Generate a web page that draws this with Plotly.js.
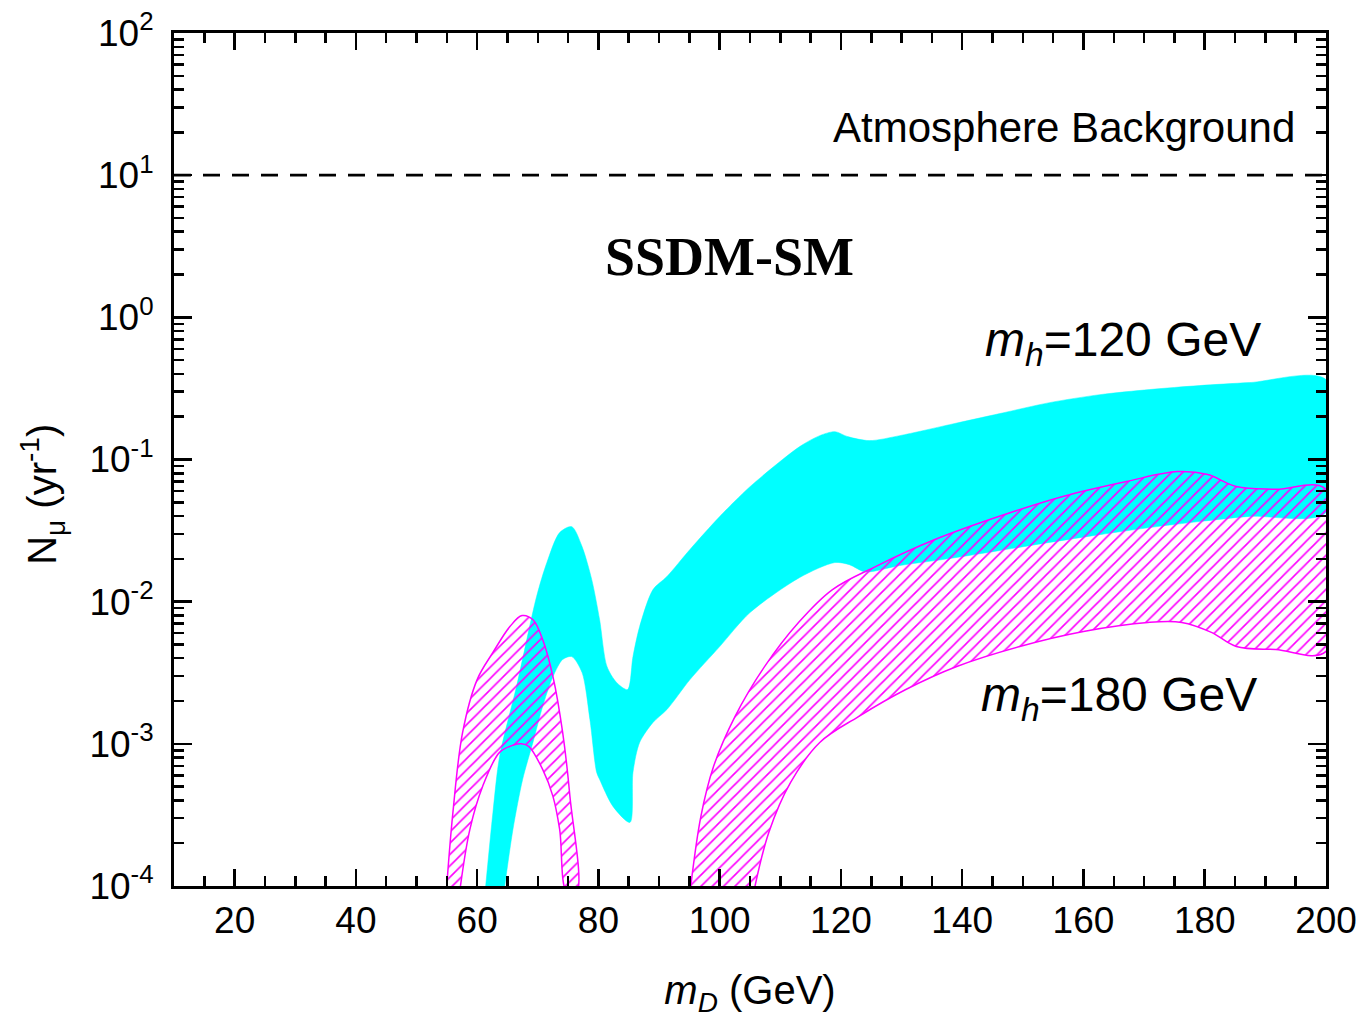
<!DOCTYPE html>
<html>
<head>
<meta charset="utf-8">
<script src="https://cdn.plot.ly/plotly-3.0.1.min.js"></script>
<style>html,body{margin:0;padding:0;background:#fff;}#chart{width:1368px;height:1026px;}</style>
</head>
<body>
<div id="chart"></div>
<script>
// m_h = 120 GeV band (cyan)
const cyanUpperX = [61.3, 62.6, 63.7, 66.5, 69.8, 71.5, 73.6, 75.6, 77.3, 78.9, 80.2, 81.4, 83.0, 84.8, 85.7, 86.8, 89.0, 91.3, 95.1, 100.0, 105.0, 113.2, 116.5, 119.0, 121.1, 124.7, 129.7, 137.9, 146.2, 154.4, 162.7, 170.9, 179.1, 187.4, 200.0];
const cyanUpperY = [0.00009, 0.000329, 0.000815, 0.00254, 0.01086, 0.01884, 0.0306, 0.0337, 0.0244, 0.01429, 0.00746, 0.00351, 0.0027, 0.00241, 0.00411, 0.00668, 0.01216, 0.01503, 0.0233, 0.0397, 0.0644, 0.1233, 0.1472, 0.157, 0.1449, 0.1358, 0.1472, 0.1758, 0.2104, 0.2512, 0.2858, 0.3105, 0.3311, 0.3475, 0.3648];
const cyanLowerX = [64.4, 65.9, 67.5, 69.2, 70.8, 72.5, 74.1, 75.6, 77.3, 78.6, 79.7, 80.2, 82.4, 85.2, 85.7, 86.8, 89.0, 91.3, 95.1, 100.0, 105.0, 113.2, 119.0, 121.4, 124.0, 129.7, 137.9, 146.2, 154.4, 162.7, 170.9, 179.1, 187.4, 200.0];
const cyanLowerY = [0.00009, 0.00025, 0.000562, 0.001023, 0.001828, 0.00297, 0.00392, 0.00411, 0.00317, 0.001479, 0.000631, 0.000562, 0.000363, 0.00028, 0.000631, 0.001023, 0.001413, 0.001742, 0.00283, 0.00483, 0.00838, 0.01479, 0.01884, 0.0182, 0.0162, 0.01795, 0.0201, 0.0229, 0.0261, 0.0296, 0.0332, 0.0366, 0.0398, 0.0424];

// m_h = 180 GeV, left arch (magenta hatched)
const archOuterX = [54.9, 56.0, 57.6, 60.0, 62.6, 65.4, 67.4, 69.2, 70.8, 72.5, 74.1, 75.3, 76.4];
const archOuterY = [0.00009, 0.000329, 0.001202, 0.00283, 0.00439, 0.00668, 0.00798, 0.00746, 0.00541, 0.00297, 0.001202, 0.000427, 0.00009];
const archInnerX = [57.1, 58.8, 60.9, 63.7, 66.0, 67.3, 68.5, 70.8, 72.5, 73.6, 74.8];
const archInnerY = [0.00009, 0.00025, 0.000501, 0.000871, 0.00098, 0.001, 0.00096, 0.000661, 0.000427, 0.000251, 0.00009];

// m_h = 180 GeV, right band (magenta hatched)
const bandOuterX = [95.1, 96.9, 99.0, 102.5, 107.4, 113.0, 118.6, 125.7, 135.5, 146.0, 156.6, 167.1, 175.5, 180.5, 185.2, 191.7, 200.0];
const bandOuterY = [0.00009, 0.000309, 0.000695, 0.001549, 0.00349, 0.00713, 0.01216, 0.01766, 0.02735, 0.0397, 0.055, 0.07, 0.0822, 0.0783, 0.0646, 0.0617, 0.0617];
const bandInnerX = [105.6, 108.1, 111.7, 116.5, 122.9, 130.7, 139.1, 149.5, 160.0, 170.6, 176.2, 181.1, 185.2, 191.7, 200.0];
const bandInnerY = [0.00009, 0.000238, 0.000535, 0.001023, 0.001556, 0.00241, 0.0035, 0.00484, 0.00617, 0.00714, 0.00714, 0.00608, 0.00484, 0.00461, 0.00447];

// atmospheric background level
const bgX = [10, 200];
const bgY = [10, 10];

// tick labels
const yTickVals = [0.0001, 0.001, 0.01, 0.1, 1, 10, 100];
const yTickText = ['10<sup>-4</sup>', '10<sup>-3</sup>', '10<sup>-2</sup>', '10<sup>-1</sup>', '10<sup>0</sup>', '10<sup>1</sup>', '10<sup>2</sup>'];

function closed(ux, uy, lx, ly) {
  return {x: ux.concat(lx.slice().reverse()), y: uy.concat(ly.slice().reverse())};
}
const minorY = [];
for (let e = -4; e < 2; e++) for (let m = 2; m <= 9; m++) minorY.push(m * Math.pow(10, e));

const cy = closed(cyanUpperX, cyanUpperY, cyanLowerX, cyanLowerY);
const ar = closed(archOuterX, archOuterY, archInnerX, archInnerY);
const bd = closed(bandOuterX, bandOuterY, bandInnerX, bandInnerY);

const hatch = {shape: '/', fgcolor: '#ff00ff', bgcolor: 'rgba(255,255,255,0)', size: 8, solidity: 0.2, fgopacity: 1};

const traces = [
  {x: cy.x, y: cy.y, type: 'scatter', mode: 'lines', fill: 'toself', fillcolor: '#00ffff',
   line: {color: '#00ffff', width: 0.5, shape: 'spline', smoothing: 0.8}, hoverinfo: 'skip'},
  {x: ar.x, y: ar.y, type: 'scatter', mode: 'lines', fill: 'toself', fillcolor: 'rgba(255,255,255,0)',
   fillpattern: hatch, line: {color: '#ff00ff', width: 1.5, shape: 'spline', smoothing: 1}, hoverinfo: 'skip'},
  {x: bd.x, y: bd.y, type: 'scatter', mode: 'lines', fill: 'toself', fillcolor: 'rgba(255,255,255,0)',
   fillpattern: hatch, line: {color: '#ff00ff', width: 1.5, shape: 'spline', smoothing: 1}, hoverinfo: 'skip'},
  {x: bgX, y: bgY, type: 'scatter', mode: 'lines', line: {color: '#000', width: 2.6, dash: '17px,12px'}, hoverinfo: 'skip'}
];

const font = 'Liberation Sans, Arial, sans-serif';
const layout = {
  width: 1368, height: 1026,
  margin: {l: 174, r: 42, t: 33, b: 140},
  paper_bgcolor: '#fff', plot_bgcolor: '#fff',
  showlegend: false,
  font: {family: font, color: '#000', size: 36},
  xaxis: {
    range: [10, 200], tick0: 0, dtick: 20, ticks: 'inside', ticklen: 17, tickwidth: 2.5, tickcolor: '#000',
    minor: {dtick: 5, ticks: 'inside', ticklen: 10, tickwidth: 2.5, tickcolor: '#000'},
    showline: true, linewidth: 3, linecolor: '#000', mirror: 'ticks', showgrid: false, zeroline: false,
    tickfont: {family: font, size: 37, color: '#000'},
    title: {text: '<i>m</i><sub><i>D</i></sub> (GeV)', font: {family: font, size: 40, color: '#000'}, standoff: 36}
  },
  yaxis: {
    type: 'log', range: [-4, 2], tickmode: 'array', tickvals: yTickVals, ticktext: yTickText,
    ticks: 'inside', ticklen: 18, tickwidth: 2.5, tickcolor: '#000',
    minor: {tickmode: 'array', tickvals: minorY, ticks: 'inside', ticklen: 10, tickwidth: 2.5, tickcolor: '#000'},
    showline: true, linewidth: 3, linecolor: '#000', mirror: 'ticks', showgrid: false, zeroline: false,
    tickfont: {family: font, size: 37, color: '#000'}, ticklabelstandoff: 10
  },
  annotations: [
    {xref: 'paper', yref: 'paper', x: -0.1145, y: 0.4587, xanchor: 'center', yanchor: 'middle', showarrow: false,
     textangle: -90, text: 'N<sub>μ</sub> (yr<sup>-1</sup>)', font: {family: font, size: 40, color: '#000'}},
    {xref: 'paper', yref: 'paper', x: 0.975, y: 0.889, xanchor: 'right', yanchor: 'middle', showarrow: false,
     text: 'Atmosphere Background', font: {family: font, size: 42, color: '#000'}},
    {xref: 'paper', yref: 'paper', x: 0.4824, y: 0.7375, xanchor: 'center', yanchor: 'middle', showarrow: false,
     text: '<b>SSDM-SM</b>', font: {family: 'Liberation Serif, Times New Roman, serif', size: 54, color: '#000'}},
    {xref: 'paper', yref: 'paper', x: 0.702, y: 0.636, xanchor: 'left', yanchor: 'middle', showarrow: false,
     text: '<i>m</i><sub><i>h</i></sub>=120 GeV', font: {family: font, size: 48, color: '#000'}},
    {xref: 'paper', yref: 'paper', x: 0.699, y: 0.2205, xanchor: 'left', yanchor: 'middle', showarrow: false,
     text: '<i>m</i><sub><i>h</i></sub>=180 GeV', font: {family: font, size: 48, color: '#000'}}
  ]
};
Plotly.newPlot('chart', traces, layout, {staticPlot: true, displayModeBar: false});
</script>
</body>
</html>
